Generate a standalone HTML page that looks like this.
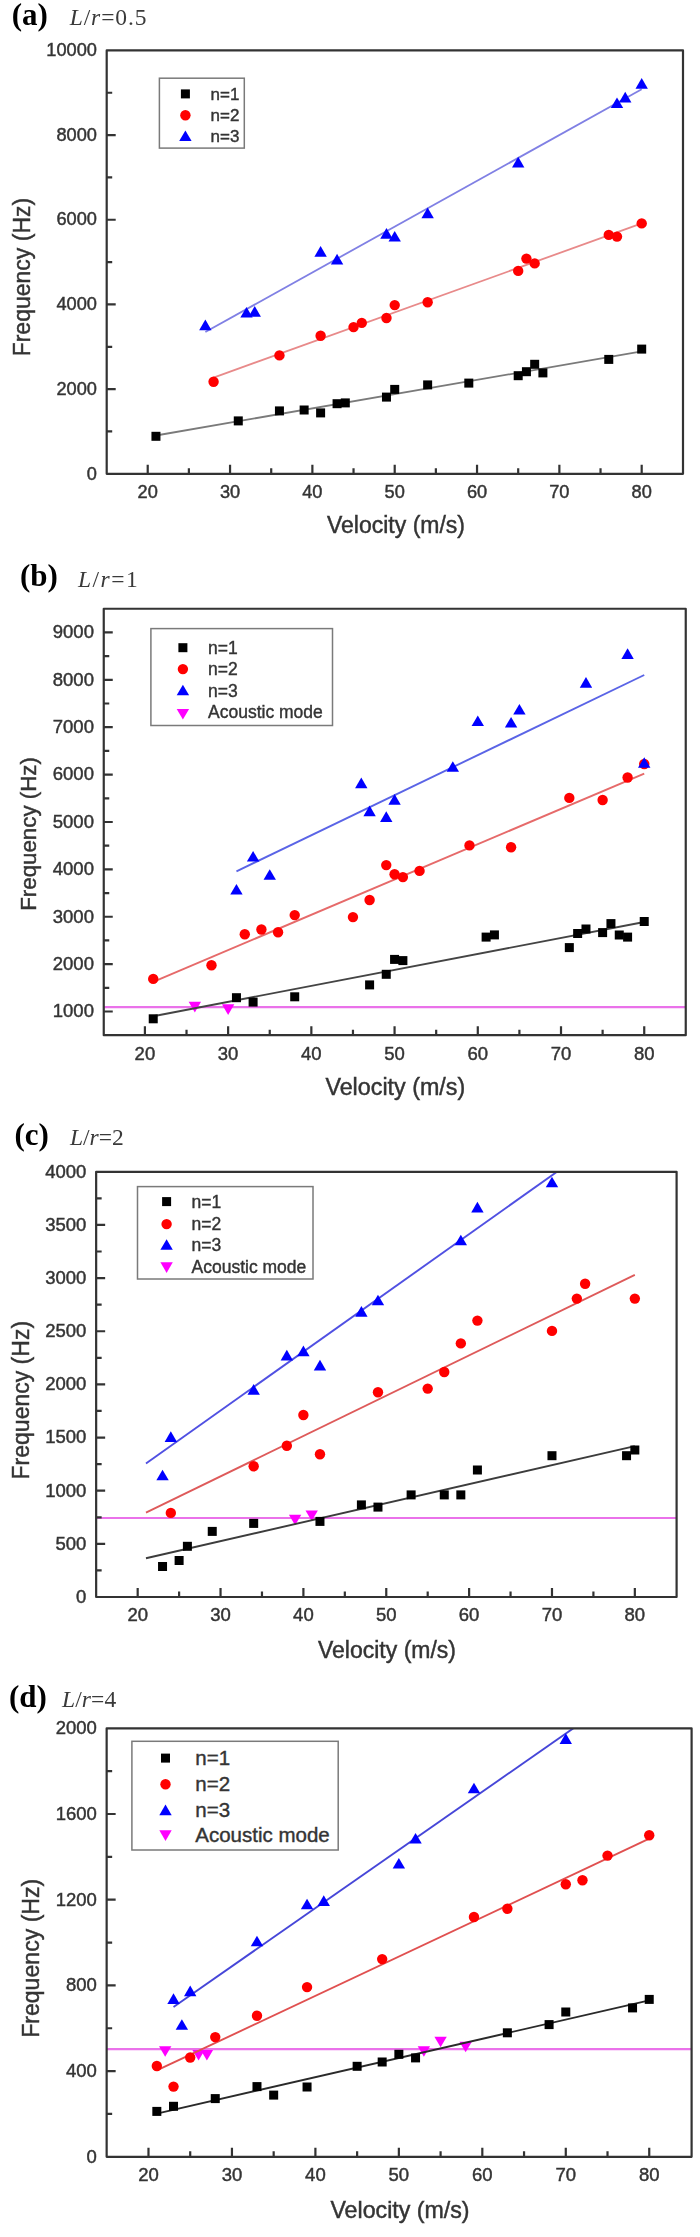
<!DOCTYPE html>
<html><head><meta charset="utf-8"><style>
html,body{margin:0;padding:0;background:#fff;}
body{width:700px;height:2237px;overflow:hidden;}
svg{display:block;filter:blur(0.5px);}
.tl{font-family:"Liberation Sans",sans-serif;fill:#343434;stroke:#343434;stroke-width:0.45px;}
.at{font-family:"Liberation Sans",sans-serif;fill:#343434;stroke:#343434;stroke-width:0.45px;}
.lg{font-family:"Liberation Sans",sans-serif;fill:#343434;stroke:#343434;stroke-width:0.4px;}
.pl{font-family:"Liberation Serif",serif;font-weight:bold;font-size:31px;fill:#000;}
.pt{font-family:"Liberation Serif",serif;font-size:23.5px;fill:#3a3a3a;}
</style></head><body>
<svg width="700" height="2237" viewBox="0 0 700 2237">
<defs><clipPath id="a"><rect x="106.7" y="50.4" width="576.3" height="423.4"/></clipPath></defs>
<text x="96.9" y="479.52" text-anchor="end" class="tl" style="font-size:18.2px">0</text>
<text x="96.9" y="394.84" text-anchor="end" class="tl" style="font-size:18.2px">2000</text>
<text x="96.9" y="310.16" text-anchor="end" class="tl" style="font-size:18.2px">4000</text>
<text x="96.9" y="225.48" text-anchor="end" class="tl" style="font-size:18.2px">6000</text>
<text x="96.9" y="140.8" text-anchor="end" class="tl" style="font-size:18.2px">8000</text>
<text x="96.9" y="56.12" text-anchor="end" class="tl" style="font-size:18.2px">10000</text>
<text x="147.72" y="498.1" text-anchor="middle" class="tl" style="font-size:18.2px">20</text>
<text x="230.05" y="498.1" text-anchor="middle" class="tl" style="font-size:18.2px">30</text>
<text x="312.38" y="498.1" text-anchor="middle" class="tl" style="font-size:18.2px">40</text>
<text x="394.71" y="498.1" text-anchor="middle" class="tl" style="font-size:18.2px">50</text>
<text x="477.04" y="498.1" text-anchor="middle" class="tl" style="font-size:18.2px">60</text>
<text x="559.37" y="498.1" text-anchor="middle" class="tl" style="font-size:18.2px">70</text>
<text x="641.69" y="498.1" text-anchor="middle" class="tl" style="font-size:18.2px">80</text>
<text x="11.7" y="25" class="pl">(a)</text>
<text x="69.7" y="24.7" class="pt" style="letter-spacing:0.9px"><tspan font-style="italic">L</tspan>/<tspan font-style="italic">r</tspan>=0.5</text>
<text x="396" y="532.8" text-anchor="middle" class="at" style="font-size:23px">Velocity (m/s)</text>
<text transform="translate(29.8 277.1) rotate(-90)" text-anchor="middle" class="at" style="font-size:23px">Frequency (Hz)</text>
<g clip-path="url(#a)"><path d="M155.95 435.51L641.69 351.4" stroke="#7a7a7a" stroke-width="1.8" fill="none"/><path d="M213.58 377.58L641.69 223.44" stroke="#e88a8a" stroke-width="1.8" fill="none"/><path d="M205.35 332.04L641.69 89.19" stroke="#8080e4" stroke-width="1.8" fill="none"/><g fill="#000"><rect x="151.45" y="431.8" width="9" height="9"/><rect x="233.78" y="416.4" width="9" height="9"/><rect x="274.94" y="406.4" width="9" height="9"/><rect x="299.64" y="405.5" width="9" height="9"/><rect x="316.11" y="408.4" width="9" height="9"/><rect x="332.57" y="399.2" width="9" height="9"/><rect x="340.81" y="398.4" width="9" height="9"/><rect x="381.97" y="392.6" width="9" height="9"/><rect x="390.21" y="384.9" width="9" height="9"/><rect x="423.14" y="380.4" width="9" height="9"/><rect x="464.3" y="378.6" width="9" height="9"/><rect x="513.7" y="371.2" width="9" height="9"/><rect x="521.93" y="367.2" width="9" height="9"/><rect x="530.17" y="359.8" width="9" height="9"/><rect x="538.4" y="368.4" width="9" height="9"/><rect x="604.26" y="354.9" width="9" height="9"/><rect x="637.19" y="344.6" width="9" height="9"/></g><g fill="#f00"><circle cx="213.58" cy="381.7" r="5.2"/><circle cx="279.44" cy="355.4" r="5.2"/><circle cx="320.61" cy="335.7" r="5.2"/><circle cx="353.54" cy="327.1" r="5.2"/><circle cx="361.77" cy="322.9" r="5.2"/><circle cx="386.47" cy="318" r="5.2"/><circle cx="394.71" cy="305.1" r="5.2"/><circle cx="427.64" cy="302.3" r="5.2"/><circle cx="518.2" cy="270.9" r="5.2"/><circle cx="526.43" cy="258.6" r="5.2"/><circle cx="534.67" cy="263.4" r="5.2"/><circle cx="608.76" cy="234.9" r="5.2"/><circle cx="617" cy="236.6" r="5.2"/><circle cx="641.69" cy="223.4" r="5.2"/></g><g fill="#00f"><path d="M205.35 319.6L211.55 330.2H199.15Z"/><path d="M246.51 307L252.71 317.6H240.31Z"/><path d="M254.74 306.1L260.94 316.7H248.54Z"/><path d="M320.61 246.1L326.81 256.7H314.41Z"/><path d="M337.07 253.8L343.27 264.4H330.87Z"/><path d="M386.47 228.1L392.67 238.7H380.27Z"/><path d="M394.71 231L400.91 241.6H388.51Z"/><path d="M427.64 207.6L433.84 218.2H421.44Z"/><path d="M518.2 156.8L524.4 167.4H512Z"/><path d="M617 97.4L623.2 108H610.8Z"/><path d="M625.23 91.8L631.43 102.4H619.03Z"/><path d="M641.69 78.1L647.89 88.7H635.49Z"/></g></g>
<path d="M106.7 50.4H683V473.8H106.7Z M147.72 473.8v-9 M230.05 473.8v-9 M312.38 473.8v-9 M394.71 473.8v-9 M477.04 473.8v-9 M559.37 473.8v-9 M641.69 473.8v-9 M188.88 473.8v-5.5 M271.21 473.8v-5.5 M353.54 473.8v-5.5 M435.87 473.8v-5.5 M518.2 473.8v-5.5 M600.53 473.8v-5.5 M106.7 473.8h9 M106.7 389.12h9 M106.7 304.44h9 M106.7 219.76h9 M106.7 135.08h9 M106.7 50.4h9 M106.7 431.46h5.5 M106.7 346.78h5.5 M106.7 262.1h5.5 M106.7 177.42h5.5 M106.7 92.74h5.5" stroke="#333333" stroke-width="2.2" fill="none" stroke-linecap="butt" stroke-linejoin="round"/>
<rect x="159.4" y="78.2" width="84.9" height="69.9" fill="#fff" stroke="#7a7a7a" stroke-width="1.5"/>
<g fill="#000"><rect x="180.9" y="89.4" width="9" height="9"/></g>
<text x="210.5" y="99.9" class="lg" style="font-size:17px">n=1</text>
<g fill="#f00"><circle cx="185.4" cy="115.3" r="5.2"/></g>
<text x="210.5" y="121.1" class="lg" style="font-size:17px">n=2</text>
<g fill="#00f"><path d="M185.4 130.4L191.6 141H179.2Z"/></g>
<text x="210.5" y="142.3" class="lg" style="font-size:17px">n=3</text>
<defs><clipPath id="b"><rect x="103.75" y="608.75" width="582" height="426.45"/></clipPath></defs>
<text x="93.95" y="1017.33" text-anchor="end" class="tl" style="font-size:18.5px">1000</text>
<text x="93.95" y="969.95" text-anchor="end" class="tl" style="font-size:18.5px">2000</text>
<text x="93.95" y="922.56" text-anchor="end" class="tl" style="font-size:18.5px">3000</text>
<text x="93.95" y="875.18" text-anchor="end" class="tl" style="font-size:18.5px">4000</text>
<text x="93.95" y="827.8" text-anchor="end" class="tl" style="font-size:18.5px">5000</text>
<text x="93.95" y="780.41" text-anchor="end" class="tl" style="font-size:18.5px">6000</text>
<text x="93.95" y="733.03" text-anchor="end" class="tl" style="font-size:18.5px">7000</text>
<text x="93.95" y="685.65" text-anchor="end" class="tl" style="font-size:18.5px">8000</text>
<text x="93.95" y="638.26" text-anchor="end" class="tl" style="font-size:18.5px">9000</text>
<text x="144.91" y="1059.5" text-anchor="middle" class="tl" style="font-size:18.5px">20</text>
<text x="228.13" y="1059.5" text-anchor="middle" class="tl" style="font-size:18.5px">30</text>
<text x="311.35" y="1059.5" text-anchor="middle" class="tl" style="font-size:18.5px">40</text>
<text x="394.57" y="1059.5" text-anchor="middle" class="tl" style="font-size:18.5px">50</text>
<text x="477.79" y="1059.5" text-anchor="middle" class="tl" style="font-size:18.5px">60</text>
<text x="561.01" y="1059.5" text-anchor="middle" class="tl" style="font-size:18.5px">70</text>
<text x="644.23" y="1059.5" text-anchor="middle" class="tl" style="font-size:18.5px">80</text>
<text x="20" y="586" class="pl">(b)</text>
<text x="78" y="587" class="pt" style="letter-spacing:1.5px"><tspan font-style="italic">L</tspan>/<tspan font-style="italic">r</tspan>=1</text>
<text x="395.3" y="1094.8" text-anchor="middle" class="at" style="font-size:23.3px">Velocity (m/s)</text>
<text transform="translate(35.5 834) rotate(-90)" text-anchor="middle" class="at" style="font-size:22.3px">Frequency (Hz)</text>
<g clip-path="url(#b)"><path d="M103.75 1007.1H685.75" stroke="#ea72ea" stroke-width="2.2" fill="none"/><g fill="#f0f"><path d="M194.84 1012.4L201.04 1001.8H188.64Z"/><path d="M228.13 1014.9L234.33 1004.3H221.93Z"/></g><path d="M153.23 1016.26L644.23 921.95" stroke="#444" stroke-width="1.9" fill="none"/><path d="M153.23 981.83L644.23 773.61" stroke="#e66a6a" stroke-width="1.9" fill="none"/><path d="M236.45 871.33L644.23 674.99" stroke="#5a64e6" stroke-width="1.9" fill="none"/><g fill="#000"><rect x="148.73" y="1014.3" width="9" height="9"/><rect x="231.95" y="993.2" width="9" height="9"/><rect x="248.6" y="997.6" width="9" height="9"/><rect x="290.21" y="992.3" width="9" height="9"/><rect x="365.1" y="980.4" width="9" height="9"/><rect x="381.75" y="969.8" width="9" height="9"/><rect x="390.07" y="954.9" width="9" height="9"/><rect x="398.39" y="956.1" width="9" height="9"/><rect x="481.61" y="932.6" width="9" height="9"/><rect x="489.93" y="930.4" width="9" height="9"/><rect x="564.83" y="943.1" width="9" height="9"/><rect x="573.15" y="929" width="9" height="9"/><rect x="581.48" y="924.5" width="9" height="9"/><rect x="598.12" y="928.1" width="9" height="9"/><rect x="606.44" y="919.1" width="9" height="9"/><rect x="614.76" y="930.5" width="9" height="9"/><rect x="623.09" y="932.6" width="9" height="9"/><rect x="639.73" y="917" width="9" height="9"/></g><g fill="#f00"><circle cx="153.23" cy="978.9" r="5.2"/><circle cx="211.49" cy="965.3" r="5.2"/><circle cx="244.77" cy="934.2" r="5.2"/><circle cx="261.42" cy="929.5" r="5.2"/><circle cx="278.06" cy="932.3" r="5.2"/><circle cx="294.71" cy="915.1" r="5.2"/><circle cx="352.96" cy="917.1" r="5.2"/><circle cx="369.6" cy="900" r="5.2"/><circle cx="386.25" cy="865.1" r="5.2"/><circle cx="394.57" cy="874.3" r="5.2"/><circle cx="402.89" cy="877.1" r="5.2"/><circle cx="419.54" cy="870.9" r="5.2"/><circle cx="469.47" cy="845.4" r="5.2"/><circle cx="511.08" cy="847.3" r="5.2"/><circle cx="569.33" cy="797.9" r="5.2"/><circle cx="602.62" cy="800" r="5.2"/><circle cx="627.59" cy="777.5" r="5.2"/><circle cx="644.23" cy="764" r="5.2"/></g><g fill="#00f"><path d="M236.45 884L242.65 894.6H230.25Z"/><path d="M253.1 851L259.3 861.6H246.9Z"/><path d="M269.74 869.2L275.94 879.8H263.54Z"/><path d="M361.28 777.6L367.48 788.2H355.08Z"/><path d="M369.6 805.6L375.8 816.2H363.4Z"/><path d="M386.25 811.3L392.45 821.9H380.05Z"/><path d="M394.57 794.1L400.77 804.7H388.37Z"/><path d="M452.82 761.2L459.02 771.8H446.62Z"/><path d="M477.79 715.4L483.99 726H471.59Z"/><path d="M511.08 716.9L517.28 727.5H504.88Z"/><path d="M519.4 703.9L525.6 714.5H513.2Z"/><path d="M585.98 677.1L592.18 687.7H579.78Z"/><path d="M627.59 648.3L633.79 658.9H621.39Z"/><path d="M644.23 757.2L650.43 767.8H638.03Z"/></g></g>
<path d="M103.75 608.75H685.75V1035.2H103.75Z M144.91 1035.2v-9 M228.13 1035.2v-9 M311.35 1035.2v-9 M394.57 1035.2v-9 M477.79 1035.2v-9 M561.01 1035.2v-9 M644.23 1035.2v-9 M186.52 1035.2v-5.5 M269.74 1035.2v-5.5 M352.96 1035.2v-5.5 M436.18 1035.2v-5.5 M519.4 1035.2v-5.5 M602.62 1035.2v-5.5 M103.75 1011.51h9 M103.75 964.12h9 M103.75 916.74h9 M103.75 869.36h9 M103.75 821.98h9 M103.75 774.59h9 M103.75 727.21h9 M103.75 679.83h9 M103.75 632.44h9 M103.75 987.82h5.5 M103.75 940.43h5.5 M103.75 893.05h5.5 M103.75 845.67h5.5 M103.75 798.28h5.5 M103.75 750.9h5.5 M103.75 703.52h5.5 M103.75 656.13h5.5" stroke="#333333" stroke-width="2.2" fill="none" stroke-linecap="butt" stroke-linejoin="round"/>
<rect x="150.9" y="628.6" width="181.6" height="96.9" fill="#fff" stroke="#7a7a7a" stroke-width="1.5"/>
<g fill="#000"><rect x="178.4" y="643.2" width="9" height="9"/></g>
<text x="208" y="653.7" class="lg" style="font-size:17.5px">n=1</text>
<g fill="#f00"><circle cx="182.9" cy="669.1" r="5.2"/></g>
<text x="208" y="674.9" class="lg" style="font-size:17.5px">n=2</text>
<g fill="#00f"><path d="M182.9 684.7L189.1 695.3H176.7Z"/></g>
<text x="208" y="696.6" class="lg" style="font-size:17.5px">n=3</text>
<g fill="#f0f"><path d="M182.9 719.6L189.1 709H176.7Z"/></g>
<text x="208" y="718.4" class="lg" style="font-size:17.5px">Acoustic mode</text>
<defs><clipPath id="c"><rect x="96.15" y="1171.8" width="580.45" height="425.2"/></clipPath></defs>
<text x="86.35" y="1602.82" text-anchor="end" class="tl" style="font-size:18.5px">0</text>
<text x="86.35" y="1549.67" text-anchor="end" class="tl" style="font-size:18.5px">500</text>
<text x="86.35" y="1496.52" text-anchor="end" class="tl" style="font-size:18.5px">1000</text>
<text x="86.35" y="1443.37" text-anchor="end" class="tl" style="font-size:18.5px">1500</text>
<text x="86.35" y="1390.22" text-anchor="end" class="tl" style="font-size:18.5px">2000</text>
<text x="86.35" y="1337.07" text-anchor="end" class="tl" style="font-size:18.5px">2500</text>
<text x="86.35" y="1283.92" text-anchor="end" class="tl" style="font-size:18.5px">3000</text>
<text x="86.35" y="1230.77" text-anchor="end" class="tl" style="font-size:18.5px">3500</text>
<text x="86.35" y="1177.62" text-anchor="end" class="tl" style="font-size:18.5px">4000</text>
<text x="137.68" y="1621.3" text-anchor="middle" class="tl" style="font-size:18.5px">20</text>
<text x="220.54" y="1621.3" text-anchor="middle" class="tl" style="font-size:18.5px">30</text>
<text x="303.4" y="1621.3" text-anchor="middle" class="tl" style="font-size:18.5px">40</text>
<text x="386.26" y="1621.3" text-anchor="middle" class="tl" style="font-size:18.5px">50</text>
<text x="469.12" y="1621.3" text-anchor="middle" class="tl" style="font-size:18.5px">60</text>
<text x="551.98" y="1621.3" text-anchor="middle" class="tl" style="font-size:18.5px">70</text>
<text x="634.84" y="1621.3" text-anchor="middle" class="tl" style="font-size:18.5px">80</text>
<text x="14.4" y="1145" class="pl">(c)</text>
<text x="70" y="1145" class="pt" style="letter-spacing:0px"><tspan font-style="italic">L</tspan>/<tspan font-style="italic">r</tspan>=2</text>
<text x="387" y="1657.7" text-anchor="middle" class="at" style="font-size:23px">Velocity (m/s)</text>
<text transform="translate(29 1400.2) rotate(-90)" text-anchor="middle" class="at" style="font-size:23px">Frequency (Hz)</text>
<g clip-path="url(#c)"><path d="M96.15 1518H676.6" stroke="#ea72ea" stroke-width="2.2" fill="none"/><g fill="#f0f"><path d="M295.11 1525.3L301.31 1514.7H288.91Z"/><path d="M311.69 1521L317.89 1510.4H305.49Z"/></g><path d="M145.97 1558.24L634.84 1446.15" stroke="#3c3c3c" stroke-width="1.9" fill="none"/><path d="M145.97 1512.61L634.84 1274.83" stroke="#de5a5a" stroke-width="1.9" fill="none"/><path d="M145.97 1463.43L634.84 1116.52" stroke="#5050e2" stroke-width="1.9" fill="none"/><g fill="#000"><rect x="158.04" y="1562" width="9" height="9"/><rect x="174.61" y="1556" width="9" height="9"/><rect x="182.9" y="1541.8" width="9" height="9"/><rect x="207.75" y="1526.9" width="9" height="9"/><rect x="249.18" y="1518.9" width="9" height="9"/><rect x="315.47" y="1516.9" width="9" height="9"/><rect x="356.9" y="1500.4" width="9" height="9"/><rect x="373.47" y="1502.6" width="9" height="9"/><rect x="406.62" y="1490.4" width="9" height="9"/><rect x="439.76" y="1490.4" width="9" height="9"/><rect x="456.33" y="1490.4" width="9" height="9"/><rect x="472.91" y="1465.5" width="9" height="9"/><rect x="547.48" y="1451.2" width="9" height="9"/><rect x="622.05" y="1451.2" width="9" height="9"/><rect x="630.34" y="1445.5" width="9" height="9"/></g><g fill="#f00"><circle cx="170.82" cy="1512.9" r="5.2"/><circle cx="253.68" cy="1466.3" r="5.2"/><circle cx="286.83" cy="1445.7" r="5.2"/><circle cx="303.4" cy="1415" r="5.2"/><circle cx="319.97" cy="1454.3" r="5.2"/><circle cx="377.97" cy="1392.3" r="5.2"/><circle cx="427.69" cy="1388.6" r="5.2"/><circle cx="444.26" cy="1372" r="5.2"/><circle cx="460.83" cy="1343.4" r="5.2"/><circle cx="477.41" cy="1320.6" r="5.2"/><circle cx="551.98" cy="1330.9" r="5.2"/><circle cx="576.84" cy="1298.6" r="5.2"/><circle cx="585.12" cy="1283.7" r="5.2"/><circle cx="634.84" cy="1298.6" r="5.2"/></g><g fill="#00f"><path d="M162.54 1469.7L168.74 1480.3H156.34Z"/><path d="M170.82 1431.3L177.02 1441.9H164.62Z"/><path d="M253.68 1384.1L259.88 1394.7H247.48Z"/><path d="M286.83 1349.8L293.03 1360.4H280.63Z"/><path d="M303.4 1345.6L309.6 1356.2H297.2Z"/><path d="M319.97 1359.8L326.17 1370.4H313.77Z"/><path d="M361.4 1306.1L367.6 1316.7H355.2Z"/><path d="M377.97 1294.7L384.17 1305.3H371.77Z"/><path d="M460.83 1234.7L467.03 1245.3H454.63Z"/><path d="M477.41 1201.8L483.61 1212.4H471.21Z"/><path d="M551.98 1176.7L558.18 1187.3H545.78Z"/></g></g>
<path d="M96.15 1171.8H676.6V1597H96.15Z M137.68 1597v-9 M220.54 1597v-9 M303.4 1597v-9 M386.26 1597v-9 M469.12 1597v-9 M551.98 1597v-9 M634.84 1597v-9 M179.11 1597v-5.5 M261.97 1597v-5.5 M344.83 1597v-5.5 M427.69 1597v-5.5 M510.55 1597v-5.5 M593.41 1597v-5.5 M96.15 1597h9 M96.15 1543.85h9 M96.15 1490.7h9 M96.15 1437.55h9 M96.15 1384.4h9 M96.15 1331.25h9 M96.15 1278.1h9 M96.15 1224.95h9 M96.15 1171.8h9 M96.15 1570.42h5.5 M96.15 1517.28h5.5 M96.15 1464.12h5.5 M96.15 1410.97h5.5 M96.15 1357.83h5.5 M96.15 1304.67h5.5 M96.15 1251.52h5.5 M96.15 1198.38h5.5" stroke="#333333" stroke-width="2.2" fill="none" stroke-linecap="butt" stroke-linejoin="round"/>
<rect x="137.5" y="1186.6" width="175.5" height="92.4" fill="#fff" stroke="#7a7a7a" stroke-width="1.5"/>
<g fill="#000"><rect x="162.1" y="1197.1" width="9" height="9"/></g>
<text x="191.5" y="1207.9" class="lg" style="font-size:17.5px">n=1</text>
<g fill="#f00"><circle cx="166.6" cy="1224.1" r="5.2"/></g>
<text x="191.5" y="1229.5" class="lg" style="font-size:17.5px">n=2</text>
<g fill="#00f"><path d="M166.6 1239.2L172.8 1249.8H160.4Z"/></g>
<text x="191.5" y="1251.4" class="lg" style="font-size:17.5px">n=3</text>
<g fill="#f0f"><path d="M166.6 1272.9L172.8 1262.3H160.4Z"/></g>
<text x="191.5" y="1273" class="lg" style="font-size:17.5px">Acoustic mode</text>
<defs><clipPath id="d"><rect x="106.65" y="1728.3" width="584.95" height="428.5"/></clipPath></defs>
<text x="96.85" y="2162.62" text-anchor="end" class="tl" style="font-size:18.5px">0</text>
<text x="96.85" y="2076.92" text-anchor="end" class="tl" style="font-size:18.5px">400</text>
<text x="96.85" y="1991.22" text-anchor="end" class="tl" style="font-size:18.5px">800</text>
<text x="96.85" y="1905.52" text-anchor="end" class="tl" style="font-size:18.5px">1200</text>
<text x="96.85" y="1819.82" text-anchor="end" class="tl" style="font-size:18.5px">1600</text>
<text x="96.85" y="1734.12" text-anchor="end" class="tl" style="font-size:18.5px">2000</text>
<text x="148.48" y="2181.1" text-anchor="middle" class="tl" style="font-size:18.5px">20</text>
<text x="231.94" y="2181.1" text-anchor="middle" class="tl" style="font-size:18.5px">30</text>
<text x="315.4" y="2181.1" text-anchor="middle" class="tl" style="font-size:18.5px">40</text>
<text x="398.86" y="2181.1" text-anchor="middle" class="tl" style="font-size:18.5px">50</text>
<text x="482.32" y="2181.1" text-anchor="middle" class="tl" style="font-size:18.5px">60</text>
<text x="565.78" y="2181.1" text-anchor="middle" class="tl" style="font-size:18.5px">70</text>
<text x="649.24" y="2181.1" text-anchor="middle" class="tl" style="font-size:18.5px">80</text>
<text x="9" y="1707" class="pl">(d)</text>
<text x="62" y="1707" class="pt" style="letter-spacing:0.1px"><tspan font-style="italic">L</tspan>/<tspan font-style="italic">r</tspan>=4</text>
<text x="400" y="2217.7" text-anchor="middle" class="at" style="font-size:23.2px">Velocity (m/s)</text>
<text transform="translate(39 1958.3) rotate(-90)" text-anchor="middle" class="at" style="font-size:23.1px">Frequency (Hz)</text>
<g clip-path="url(#d)"><path d="M106.65 2049.1H691.6" stroke="#ea72ea" stroke-width="2.2" fill="none"/><g fill="#f0f"><path d="M165.17 2056.8L171.37 2046.2H158.97Z"/><path d="M198.56 2060.6L204.76 2050H192.36Z"/><path d="M206.9 2060.6L213.1 2050H200.7Z"/><path d="M423.9 2056.8L430.1 2046.2H417.7Z"/><path d="M440.59 2047.3L446.79 2036.7H434.39Z"/><path d="M465.63 2052.3L471.83 2041.7H459.43Z"/></g><path d="M156.83 2113.62L649.24 2000.41" stroke="#2a2a2a" stroke-width="1.9" fill="none"/><path d="M156.83 2070.46L649.24 1838.7" stroke="#e05050" stroke-width="1.9" fill="none"/><path d="M173.52 2006.96L649.24 1675.38" stroke="#4646d8" stroke-width="1.9" fill="none"/><g fill="#000"><rect x="152.33" y="2106.9" width="9" height="9"/><rect x="169.02" y="2101.8" width="9" height="9"/><rect x="210.75" y="2094.1" width="9" height="9"/><rect x="252.48" y="2082.1" width="9" height="9"/><rect x="269.17" y="2090.6" width="9" height="9"/><rect x="302.55" y="2082.5" width="9" height="9"/><rect x="352.63" y="2061.8" width="9" height="9"/><rect x="377.67" y="2057.5" width="9" height="9"/><rect x="394.36" y="2049.8" width="9" height="9"/><rect x="411.05" y="2053.4" width="9" height="9"/><rect x="502.86" y="2028.3" width="9" height="9"/><rect x="544.59" y="2020.1" width="9" height="9"/><rect x="561.28" y="2007.5" width="9" height="9"/><rect x="628.05" y="2003.4" width="9" height="9"/><rect x="644.74" y="1994.9" width="9" height="9"/></g><g fill="#f00"><circle cx="156.83" cy="2066" r="5.2"/><circle cx="173.52" cy="2086.6" r="5.2"/><circle cx="190.21" cy="2057.5" r="5.2"/><circle cx="215.25" cy="2037.1" r="5.2"/><circle cx="256.98" cy="2015.7" r="5.2"/><circle cx="307.05" cy="1987.1" r="5.2"/><circle cx="382.17" cy="1959.1" r="5.2"/><circle cx="473.97" cy="1917" r="5.2"/><circle cx="507.36" cy="1908.7" r="5.2"/><circle cx="565.78" cy="1884.2" r="5.2"/><circle cx="582.47" cy="1880.3" r="5.2"/><circle cx="607.51" cy="1855.6" r="5.2"/><circle cx="649.24" cy="1835.2" r="5.2"/></g><g fill="#00f"><path d="M173.52 1993.3L179.72 2003.9H167.32Z"/><path d="M181.86 2019.2L188.06 2029.8H175.66Z"/><path d="M190.21 1985.6L196.41 1996.2H184.01Z"/><path d="M256.98 1935.7L263.18 1946.3H250.78Z"/><path d="M307.05 1898.7L313.25 1909.3H300.85Z"/><path d="M323.75 1895.3L329.95 1905.9H317.55Z"/><path d="M398.86 1857.9L405.06 1868.5H392.66Z"/><path d="M415.55 1832.9L421.75 1843.5H409.35Z"/><path d="M473.97 1782.7L480.17 1793.3H467.77Z"/><path d="M565.78 1733.3L571.98 1743.9H559.58Z"/></g></g>
<path d="M106.65 1728.3H691.6V2156.8H106.65Z M148.48 2156.8v-9 M231.94 2156.8v-9 M315.4 2156.8v-9 M398.86 2156.8v-9 M482.32 2156.8v-9 M565.78 2156.8v-9 M649.24 2156.8v-9 M190.21 2156.8v-5.5 M273.67 2156.8v-5.5 M357.13 2156.8v-5.5 M440.59 2156.8v-5.5 M524.05 2156.8v-5.5 M607.51 2156.8v-5.5 M106.65 2156.8h9 M106.65 2071.1h9 M106.65 1985.4h9 M106.65 1899.7h9 M106.65 1814h9 M106.65 1728.3h9 M106.65 2113.95h5.5 M106.65 2028.25h5.5 M106.65 1942.55h5.5 M106.65 1856.85h5.5 M106.65 1771.15h5.5" stroke="#333333" stroke-width="2.2" fill="none" stroke-linecap="butt" stroke-linejoin="round"/>
<rect x="131.9" y="1741.3" width="206.3" height="108.7" fill="#fff" stroke="#7a7a7a" stroke-width="1.5"/>
<g fill="#000"><rect x="161" y="1753.6" width="9" height="9"/></g>
<text x="195.3" y="1765.3" class="lg" style="font-size:20.5px">n=1</text>
<g fill="#f00"><circle cx="165.5" cy="1784.2" r="5.2"/></g>
<text x="195.3" y="1791" class="lg" style="font-size:20.5px">n=2</text>
<g fill="#00f"><path d="M165.5 1804.6L171.7 1815.2H159.3Z"/></g>
<text x="195.3" y="1817.4" class="lg" style="font-size:20.5px">n=3</text>
<g fill="#f0f"><path d="M165.5 1840.9L171.7 1830.3H159.3Z"/></g>
<text x="195.3" y="1842.4" class="lg" style="font-size:20.5px">Acoustic mode</text>
</svg></body></html>
